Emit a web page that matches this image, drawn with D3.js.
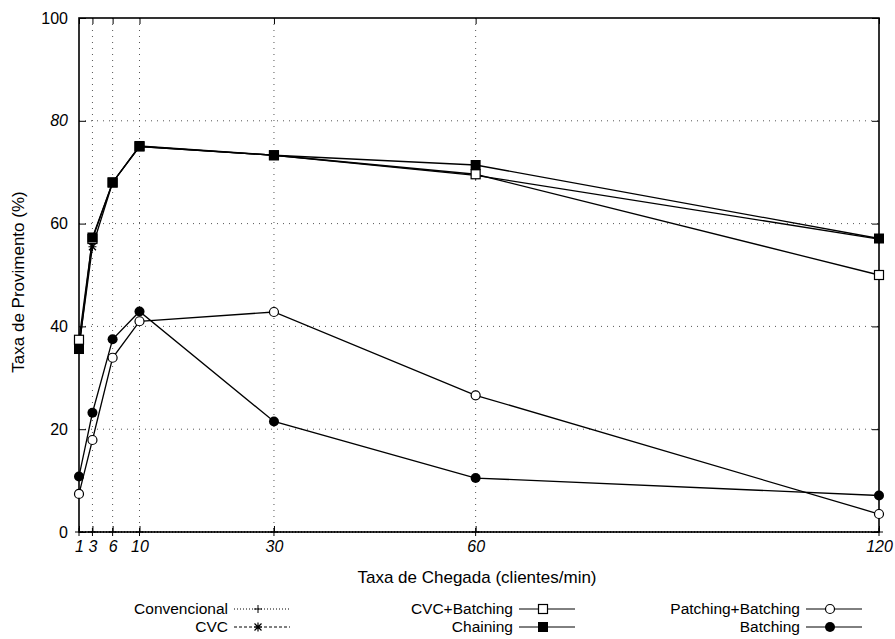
<!DOCTYPE html>
<html>
<head>
<meta charset="utf-8">
<script src="https://cdn.jsdelivr.net/npm/d3@7/dist/d3.min.js"></script>
<style>
  body { margin: 0; background: #fff; }
  text { font-family: "Liberation Sans", Arial, sans-serif; fill: #000; }
</style>
</head>
<body>
<div id="chart"></div>
<script>
// arrival rate (clients/min)
var rates = [1, 3, 6, 10, 30, 60, 120];
var xTicks = [1, 3, 6, 10, 30, 60, 120];
var yTicks = [0, 20, 40, 60, 80, 100];

var convencional     = [0, 0, 0, 0, 0, 0, 0];
var cvc              = [36.0, 55.5, 68.0, 75.0, 73.3, 69.4, 57.0];
var cvcBatching      = [37.4, 57.0, 68.0, 75.0, 73.3, 69.6, 50.0];
var chaining         = [35.6, 57.3, 68.0, 75.1, 73.3, 71.4, 57.1];
var patchingBatching = [7.4, 17.9, 33.9, 41.0, 42.8, 26.6, 3.5];
var batching         = [10.8, 23.2, 37.5, 42.9, 21.5, 10.5, 7.1];

var seriesNames = ["Convencional", "CVC", "CVC+Batching", "Chaining", "Patching+Batching", "Batching"];

var W = 895, H = 639;
var margin = {top: 18, right: 16, bottom: 107, left: 79},
    width = W - margin.left - margin.right,
    height = H - margin.top - margin.bottom;

var x = d3.scaleLinear().domain([1, 120]).range([0, width]);
var y = d3.scaleLinear().domain([0, 100]).range([height, 0]);

var svg = d3.select("#chart").append("svg")
    .attr("width", W)
    .attr("height", H)
  .append("g")
    .attr("transform", "translate(" + margin.left + "," + margin.top + ")");

// dotted grid
svg.selectAll(".vgrid")
    .data(xTicks.slice(1, -1))
  .enter().append("line")
    .attr("x1", function(d) { return x(d); })
    .attr("x2", function(d) { return x(d); })
    .attr("y1", 0)
    .attr("y2", height)
    .style("stroke", "#555")
    .style("stroke-width", 1)
    .style("stroke-dasharray", "1,5");

svg.selectAll(".hgrid")
    .data(yTicks.slice(1, -1))
  .enter().append("line")
    .attr("x1", 0)
    .attr("x2", width)
    .attr("y1", function(d) { return y(d); })
    .attr("y2", function(d) { return y(d); })
    .style("stroke", "#555")
    .style("stroke-width", 1)
    .style("stroke-dasharray", "1,5");

// axes, ticks pointing inward
var xAxis = d3.axisBottom(x).tickValues(xTicks).tickSize(-6).tickSizeOuter(0).tickPadding(9);
var yAxis = d3.axisLeft(y).tickValues(yTicks).tickSize(-7).tickSizeOuter(0).tickPadding(11);

var gx = svg.append("g")
    .attr("transform", "translate(0," + height + ")")
    .call(xAxis);
gx.select(".domain").remove();
gx.selectAll("text").style("font-size", "16px").style("font-style", "italic")
    .style("font-family", "'Liberation Sans', Arial, sans-serif");

var gy = svg.append("g").call(yAxis);
gy.select(".domain").remove();
gy.selectAll("text").style("font-size", "16px")
    .style("font-family", "'Liberation Sans', Arial, sans-serif")
    .style("font-style", function(d) { return d == 80 ? "italic" : "normal"; });

// mirror ticks
svg.append("g").call(d3.axisTop(x).tickValues(xTicks).tickSize(-6).tickSizeOuter(0).tickFormat(""))
    .select(".domain").remove();
svg.append("g").attr("transform", "translate(" + width + ",0)")
    .call(d3.axisRight(y).tickValues(yTicks).tickSize(-7).tickSizeOuter(0).tickFormat(""))
    .select(".domain").remove();

svg.append("rect")
    .attr("width", width)
    .attr("height", height)
    .style("fill", "none")
    .style("stroke", "#000")
    .style("stroke-width", 1.6);

// axis titles
svg.append("text")
    .attr("x", width / 2 - 2)
    .attr("y", height + 51)
    .style("text-anchor", "middle")
    .style("font-size", "17px")
    .text("Taxa de Chegada (clientes/min)");

svg.append("text")
    .attr("transform", "rotate(-90)")
    .attr("x", -264)
    .attr("y", -55)
    .style("text-anchor", "middle")
    .style("font-size", "17px")
    .text("Taxa de Provimento (%)");

// marker drawing
function drawMarker(g, type) {
  if (type == "plus") {
    g.append("path").attr("d", "M-4,0H4M0,-4V4").style("stroke", "#000").style("stroke-width", 1);
  } else if (type == "star") {
    g.append("path").attr("d", "M-4,0H4M0,-4.5V4.5M-3.5,-3.5L3.5,3.5M-3.5,3.5L3.5,-3.5")
        .style("stroke", "#000").style("stroke-width", 1.2);
  } else if (type == "square") {
    g.append("rect").attr("x", -4.5).attr("y", -4.5).attr("width", 9).attr("height", 9)
        .style("fill", "#fff").style("stroke", "#000").style("stroke-width", 1.2);
  } else if (type == "fsquare") {
    g.append("rect").attr("x", -5).attr("y", -5).attr("width", 10).attr("height", 10)
        .style("fill", "#000");
  } else if (type == "circle") {
    g.append("circle").attr("r", 4.5)
        .style("fill", "#fff").style("stroke", "#000").style("stroke-width", 1.2);
  } else if (type == "fcircle") {
    g.append("circle").attr("r", 5).style("fill", "#000");
  }
}

var series = [
  {name: seriesNames[0], values: convencional, marker: "plus", dash: "1,2"},
  {name: seriesNames[1], values: cvc, marker: "star", dash: null},
  {name: seriesNames[2], values: cvcBatching, marker: "square", dash: null},
  {name: seriesNames[3], values: chaining, marker: "fsquare", dash: null},
  {name: seriesNames[4], values: patchingBatching, marker: "circle", dash: null},
  {name: seriesNames[5], values: batching, marker: "fcircle", dash: null}
];

var line = d3.line()
    .x(function(d, i) { return x(rates[i]); })
    .y(function(d) { return y(d); });

series.forEach(function(s) {
  svg.append("path")
      .datum(s.values)
      .attr("d", line)
      .style("fill", "none")
      .style("stroke", "#000")
      .style("stroke-width", 1.3)
      .style("stroke-dasharray", s.dash);
});

series.forEach(function(s) {
  s.values.forEach(function(v, i) {
    var g = svg.append("g").attr("transform", "translate(" + x(rates[i]) + "," + y(v) + ")");
    drawMarker(g, s.marker);
  });
});

// legend: three columns, two rows (absolute page coords)
var legendCols = [228, 513, 800];
var legendRows = [609, 627];
series.forEach(function(s, i) {
  var col = Math.floor(i / 2), row = i % 2;
  var lg = svg.append("g")
      .attr("transform", "translate(" + (legendCols[col] - margin.left) + "," + (legendRows[row] - margin.top) + ")");
  lg.append("text")
      .attr("x", 0)
      .attr("dy", "0.35em")
      .style("text-anchor", "end")
      .style("font-size", "15.5px")
      .text(s.name);
  lg.append("line")
      .attr("x1", 6).attr("x2", 62)
      .style("stroke", "#000")
      .style("stroke-width", 1)
      .style("stroke-dasharray", i == 0 ? "1,2" : (i == 1 ? "3,2" : null));
  var m = lg.append("g").attr("transform", "translate(30,0)");
  drawMarker(m, s.marker);
});
</script>
</body>
</html>
